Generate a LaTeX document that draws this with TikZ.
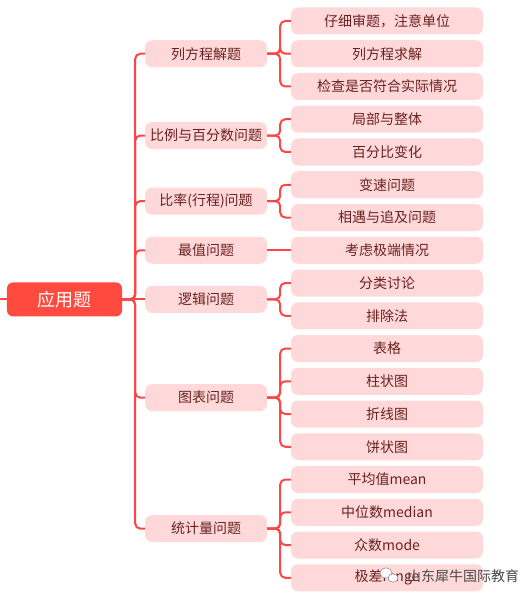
\documentclass[tikz,border=0pt]{standalone}
\usepackage{fontspec}
\setmainfont{Noto Sans CJK SC}
\newfontfamily\cjk{Noto Sans CJK SC}
\definecolor{lineRed}{HTML}{FF4545}
\definecolor{rootRed}{HTML}{FF4A3F}
\definecolor{pinkFill}{HTML}{FFD9D9}
\definecolor{txtDark}{HTML}{6A2020}
\definecolor{wmGray}{HTML}{4A4A4A}
\begin{document}
\begin{tikzpicture}[x=1bp,y=-1bp,
  rootbox/.style={fill=rootRed,rounded corners=6bp,minimum width=115bp,minimum height=34bp,
    text=white,font=\cjk\fontsize{18bp}{20bp}\selectfont,inner sep=0pt},
  midbox/.style={fill=pinkFill,rounded corners=7bp,minimum width=122bp,minimum height=27bp,
    text=txtDark,font=\cjk\fontsize{14bp}{16bp}\selectfont,inner sep=0pt},
  leafbox/.style={fill=pinkFill,rounded corners=7bp,minimum width=192bp,minimum height=27bp,
    text=txtDark,font=\cjk\fontsize{14bp}{16bp}\selectfont,inner sep=0pt},
  conn/.style={draw=lineRed,line width=2bp,rounded corners=5bp}]
\useasboundingbox (0,0) rectangle (530,599);

% root
\node[rootbox] (root) at (64.5,299.4) {应用题};
\coordinate (lft) at (0,299.4);

% level 1
\node[midbox] (m1) at (206,53.75) {列方程解题};
\node[midbox] (m2) at (206,135.6) {比例与百分数问题};
\node[midbox] (m3) at (206,201.1) {比率(行程)问题};
\node[midbox] (m4) at (206,250.25) {最值问题};
\node[midbox] (m5) at (206,299.4) {逻辑问题};
\node[midbox] (m6) at (206,397.6) {图表问题};
\node[midbox] (m7) at (206,528.6) {统计量问题};

% leaves
\node[leafbox] (l1) at (387,21) {仔细审题，注意单位};
\node[leafbox] (l2) at (387,53.75) {列方程求解};
\node[leafbox] (l3) at (387,86.5) {检查是否符合实际情况};
\node[leafbox] (l4) at (387,119.25) {局部与整体};
\node[leafbox] (l5) at (387,152) {百分比变化};
\node[leafbox] (l6) at (387,184.75) {变速问题};
\node[leafbox] (l7) at (387,217.5) {相遇与追及问题};
\node[leafbox] (l8) at (387,250.25) {考虑极端情况};
\node[leafbox] (l9) at (387,283) {分类讨论};
\node[leafbox] (l10) at (387,315.75) {排除法};
\node[leafbox] (l11) at (387,348.5) {表格};
\node[leafbox] (l12) at (387,381.25) {柱状图};
\node[leafbox] (l13) at (387,414) {折线图};
\node[leafbox] (l14) at (387,446.75) {饼状图};
\node[leafbox] (l15) at (387,479.5) {平均值mean};
\node[leafbox] (l16) at (387,512.25) {中位数median};
\node[leafbox] (l17) at (387,545) {众数mode};
\node[leafbox] (l18) at (387,577.75) {极差range};

% connectors
\draw[conn] (lft) -- (root.west);
\draw[conn] (root.east) -- (m5.west);
\foreach \m in {m1,m2,m3,m4,m6,m7}
  \draw[conn] (root.east) -- ++(13,0) |- (\m.west);
\draw[conn] (m4.east) -- (l8.west);
\foreach \m/\l in {m1/l1,m1/l2,m1/l3,m2/l4,m2/l5,m3/l6,m3/l7,m5/l9,m5/l10,
  m6/l11,m6/l12,m6/l13,m6/l14,m7/l15,m7/l16,m7/l17,m7/l18}
  \draw[conn] (\m.east) -- ++(13,0) |- (\l.west);

% watermark
\node[text=wmGray,font=\cjk\fontsize{14bp}{16bp}\selectfont,inner sep=0pt] (wm) at (463,576) {山东犀牛国际教育};
\fill[white,draw=wmGray!60,line width=0.6bp] (386,573) ellipse (6bp and 5bp);
\fill[white,draw=wmGray!60,line width=0.6bp] (393,578) ellipse (5bp and 4.2bp);
\end{tikzpicture}
\end{document}
